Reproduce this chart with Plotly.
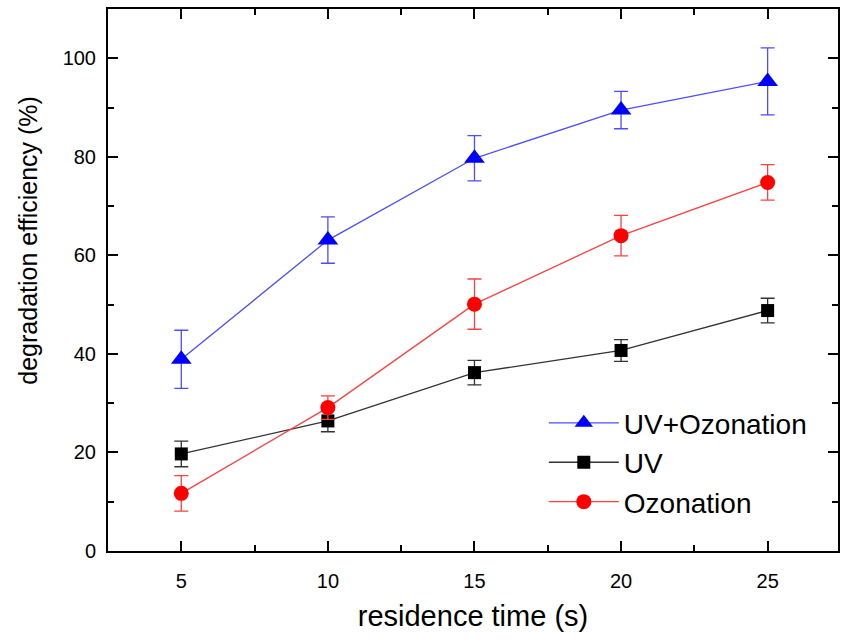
import plotly.graph_objects as go

time_s = [5, 10, 15, 20, 25]

uv_ozon = [38.9, 63.1, 79.7, 89.5, 95.3]
uv_ozon_err = [5.9, 4.7, 4.6, 3.8, 6.8]

uv = [19.7, 26.4, 36.2, 40.7, 48.8]
uv_err = [2.6, 2.2, 2.5, 2.2, 2.5]

ozon = [11.7, 29.1, 50.1, 64.0, 74.8]
ozon_err = [3.6, 2.4, 5.1, 4.1, 3.6]

FONT = "Liberation Sans, Arial, sans-serif"

fig = go.Figure()

def add(name, y, err, line_color, marker_color, symbol, size):
    fig.add_trace(go.Scatter(
        x=time_s, y=y, name=name, mode="lines+markers",
        line=dict(color=line_color, width=1.3),
        marker=dict(color=marker_color, symbol=symbol, size=size, line=dict(width=0)),
        error_y=dict(type="data", array=err, visible=True, color=line_color,
                     thickness=1.3, width=7),
    ))

add("UV+Ozonation", uv_ozon, uv_ozon_err, "#4d4dff", "#0000ff", "triangle-up", 18)
add("UV", uv, uv_err, "#333333", "#000000", "square", 13)
add("Ozonation", ozon, ozon_err, "#ff4040", "#ff0000", "circle", 15)

axis_common = dict(
    showline=True, linecolor="black", linewidth=2, mirror="ticks",
    ticks="inside", ticklen=10, tickwidth=2, tickcolor="black",
    showgrid=False, zeroline=False,
    tickfont=dict(family=FONT, size=20, color="black"),
)

fig.update_layout(
    width=842, height=642,
    paper_bgcolor="white", plot_bgcolor="white",
    margin=dict(l=108, r=2, t=9, b=91),
    font=dict(family=FONT, color="black"),
    xaxis=dict(
        range=[2.5, 27.4], tickvals=[5, 10, 15, 20, 25],
        minor=dict(tickvals=[7.5, 12.5, 17.5, 22.5, 27.5], ticks="inside", ticklen=6,
                   tickwidth=2, tickcolor="black", showgrid=False),
        title=dict(text="residence time (s)", font=dict(family=FONT, size=29), standoff=15),
        ticklabelstandoff=11,
        **axis_common,
    ),
    yaxis=dict(
        range=[0, 110], tickvals=[0, 20, 40, 60, 80, 100],
        minor=dict(tickvals=[10, 30, 50, 70, 90, 110], ticks="inside", ticklen=6,
                   tickwidth=2, tickcolor="black", showgrid=False),
        ticklabelstandoff=6,
        **axis_common,
    ),
    legend=dict(
        x=0.597, y=0.282, xanchor="left", yanchor="top",
        bgcolor="rgba(0,0,0,0)", borderwidth=0,
        font=dict(family=FONT, size=28, color="black"),
        itemwidth=70, tracegroupgap=0,
    ),
    showlegend=True,
    annotations=[dict(
        text="degradation efficiency (%)", textangle=-90,
        xref="paper", yref="paper", x=-0.11, y=(551 - 240) / 542,
        xanchor="center", yanchor="middle", showarrow=False,
        font=dict(family=FONT, size=25, color="black"),
    )],
)

fig.write_html(
    "out.html",
    config={"responsive": False, "displayModeBar": False},
    post_script="document.body.style.margin='0px';document.body.style.overflow='hidden';",
)
